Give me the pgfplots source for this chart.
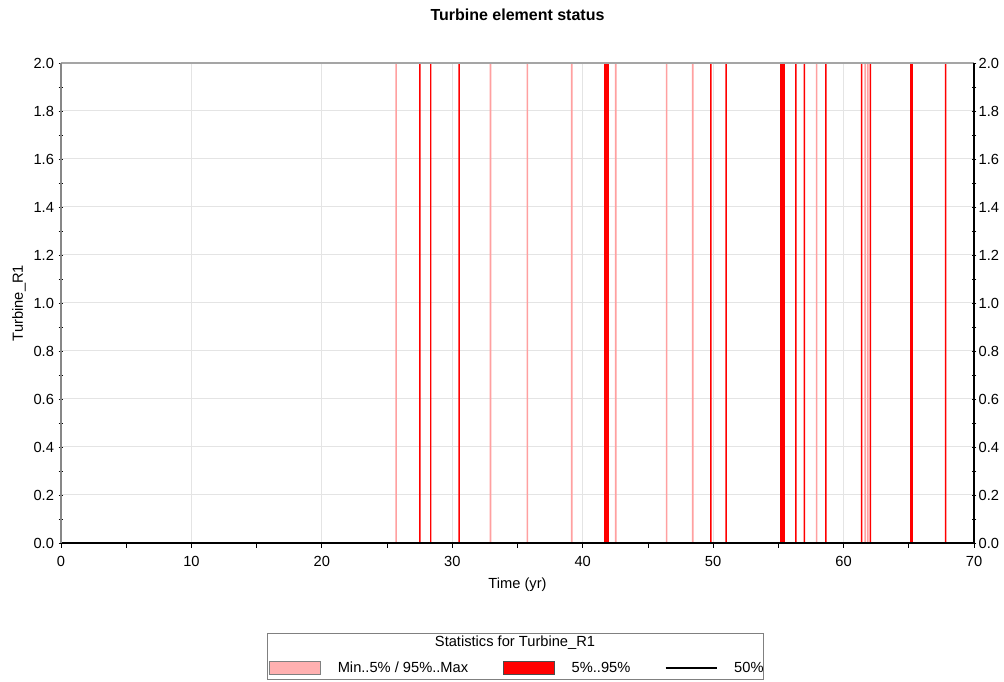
\documentclass[border=0pt]{standalone}
\usepackage{fontspec}
\setmainfont{Liberation Sans}
\usepackage{pgfplots}
\usepackage{pgfplotstable}
\pgfplotsset{compat=1.18}
\definecolor{spikepink}{RGB}{255,160,160}
\definecolor{legpink}{RGB}{255,176,176}
\definecolor{topgray}{RGB}{165,165,165}
\definecolor{leftgray}{RGB}{135,135,135}
\definecolor{gridgray}{RGB}{228,228,228}

% Min..5% / 95%..Max spikes (light)
\pgfplotstableread{
x y
25.69 2
32.93 2
35.76 2
39.16 2
42.53 2
46.43 2
48.44 2
57.93 2
61.65 2
61.85 2
}\pinklines
% 5%..95% spikes (thin)
\pgfplotstableread{
x y
27.52 2
28.35 2
30.53 2
49.82 2
51.00 2
56.35 2
57.00 2
58.65 2
61.38 2
62.06 2
67.82 2
}\redlines

\begin{document}
\begin{tikzpicture}[font=\fontsize{11}{13.2}\selectfont]
\path[use as bounding box] (0,0) rectangle (753pt,511.5pt);
\begin{axis}[
  at={(45.75pt,104.25pt)}, anchor=south west, scale only axis,
  width=684.75pt, height=360pt,
  xmin=0, xmax=70, ymin=0, ymax=2,
  clip=false,
  xtick={0,10,...,70}, ytick={0,0.2,...,2.01},
  minor x tick num=1, minor y tick num=1,
  xtick pos=left, ytick pos=both, tick align=center,
  major tick length=3.5pt, minor tick length=3.5pt,
  tick style={black, line width=0.6pt},
  grid=major, major grid style={gridgray, line width=0.75pt},
  axis line style={draw=none},
  /pgf/number format/assume math mode=true,
  yticklabel style={/pgf/number format/.cd, fixed, fixed zerofill, precision=1},
  xticklabel style={yshift=-3pt},
  title={\bfseries\fontsize{12}{14}\selectfont Turbine element status},
  every axis title/.style={at={(axis description cs:0.5,1.1)}, anchor=center},
  xlabel={Time (yr)},
  xlabel style={at={(axis description cs:0.5,-0.0875)}, anchor=center},
  ylabel={Turbine\_R1},
  ylabel style={at={(axis description cs:-0.0460,0.5)}, anchor=center},
  ybar, bar shift=0pt,
  legend columns=3,
  legend style={draw=none, fill=none, at={(0.2278,-0.2604)}, anchor=west,
    inner sep=0pt, outer sep=0pt, nodes={inner sep=0pt, anchor=west},
    /tikz/every odd column/.append style={column sep=12.75pt},
    /tikz/every even column/.append style={column sep=26pt}},
  after end axis/.code={
    \draw[topgray, line width=1.6pt] (rel axis cs:0,1) -- (rel axis cs:1,1);
    \draw[leftgray, line width=1.2pt] (rel axis cs:0,0) -- (rel axis cs:0,1);
    \draw[black, line width=0.9pt] (rel axis cs:1,0) -- (rel axis cs:1,1);
  },
]
\addplot[ybar, bar width=1.2pt, fill=spikepink, draw=none, forget plot] table[x=x,y=y] {\pinklines};
\addplot[ybar, bar width=1.1pt, fill=red, draw=none, forget plot] table[x=x,y=y] {\redlines};
\addplot[ybar, bar width=3.5pt, fill=red, draw=none, forget plot] coordinates {(41.83,2)};
\addplot[ybar, bar width=4.0pt, fill=red, draw=none, forget plot] coordinates {(55.33,2)};
\addplot[ybar, bar width=2.6pt, fill=red, draw=none, forget plot] coordinates {(65.20,2)};
\addplot[sharp plot, black, line width=1.5pt, forget plot] coordinates {(0,0) (70,0)};

\addlegendimage{legend image code/.code={\draw[draw=gray, fill=legpink, line width=0.6pt] (0pt,-4.875pt) rectangle (38.25pt,4.875pt);}}
\addlegendentry{Min..5\% / 95\%..Max}
\addlegendimage{legend image code/.code={\draw[draw=black!70, fill=red, line width=0.6pt] (0pt,-4.875pt) rectangle (38.25pt,4.875pt);}}
\addlegendentry{5\%..95\%}
\addlegendimage{legend image code/.code={\draw[black, line width=0.9pt] (0pt,0pt) -- (38.25pt,0pt);}}
\addlegendentry{50\%}
\end{axis}
\begin{axis}[
  at={(45.75pt,104.25pt)}, anchor=south west, scale only axis,
  width=684.75pt, height=360pt,
  xmin=0, xmax=70, ymin=0, ymax=2,
  axis x line=none, axis y line*=right,
  ytick={0,0.2,...,2.01},
  axis line style={draw=none}, tick style={draw=none},
  /pgf/number format/assume math mode=true,
  yticklabel style={/pgf/number format/.cd, fixed, fixed zerofill, precision=1},
]
\addplot[draw=none, forget plot] coordinates {(0,0)};
\end{axis}
\draw[gray, line width=0.75pt] (200.25pt,1.5pt) rectangle (572.25pt,36pt);
\node at (386.25pt,29.25pt) {Statistics for Turbine\_R1};
\end{tikzpicture}
\end{document}
